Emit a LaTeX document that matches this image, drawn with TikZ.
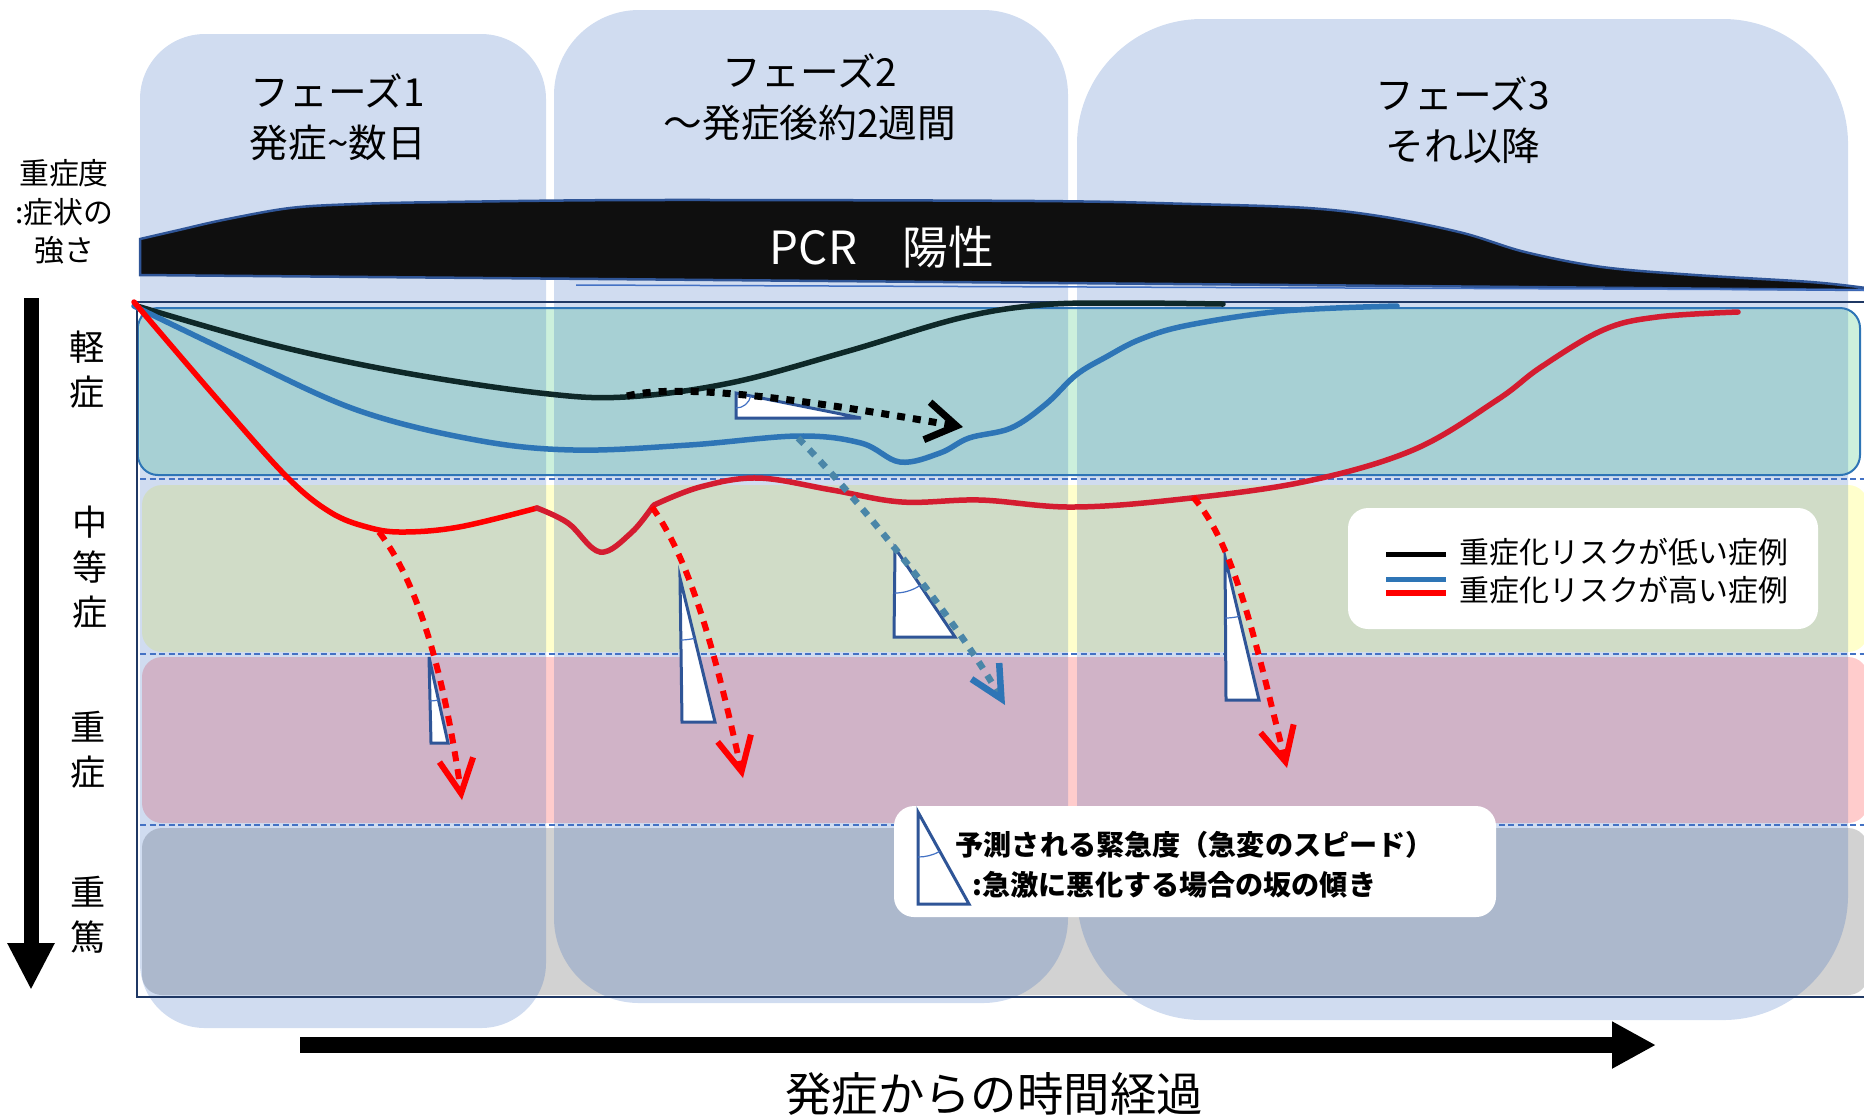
\documentclass[tikz,border=0pt]{standalone}
\usepackage{fontspec}
\setmainfont{Noto Sans CJK JP}
\usetikzlibrary{arrows.meta,calc}
\definecolor{phaseblue}{RGB}{20,80,180}
\definecolor{mildgreen}{RGB}{204,240,220}
\definecolor{midyellow}{RGB}{255,255,204}
\definecolor{sevpink}{RGB}{255,204,204}
\definecolor{critgray}{RGB}{210,210,210}
\definecolor{riskblue}{RGB}{46,117,182}
\definecolor{riskred}{RGB}{212,28,48}
\definecolor{lowblack}{RGB}{14,40,40}
\definecolor{framenavy}{RGB}{31,56,100}
\definecolor{triblue}{RGB}{47,85,151}
\definecolor{dashblue}{RGB}{68,114,196}
\definecolor{tealdot}{RGB}{74,134,168}

\begin{document}
\begin{tikzpicture}[x=0.1mm,y=-0.1mm,
  phasecol/.style={fill=phaseblue,fill opacity=0.2},
  curve/.style={line width=0.55mm,line cap=round},
  reddots/.style={red,line width=0.6mm,dash pattern=on 1mm off 0.8mm,-{Straight Barb[length=3.4mm,width=3.4mm]}},
  urgtri/.style={fill=white,draw=triblue,line width=0.3mm},
  urgarc/.style={draw=dashblue,line width=0.12mm},
  sevtext/.style={font=\fontsize{10}{12.8}\selectfont,align=center,inner sep=0pt},
  phasetext/.style={font=\fontsize{11}{14.5}\selectfont,align=center,inner sep=0pt},
  legtext/.style={font=\fontsize{8.5}{10}\selectfont,inner sep=0pt},
  urgtext/.style={font=\fontsize{8}{10}\selectfont\bfseries,inner sep=0pt}]

\useasboundingbox (0,0) rectangle (1864,1115);

% severity bands
\fill[mildgreen,rounded corners=2mm] (138,308) rectangle (1860,475);
\fill[midyellow,rounded corners=2mm] (142,485) rectangle (1868,652);
\fill[sevpink,rounded corners=2mm] (142,657) rectangle (1868,823);
\fill[critgray,rounded corners=2mm] (142,828) rectangle (1868,995);

% phases
\fill[phasecol,rounded corners=6.5mm] (140,34) rectangle (546,1028);
\fill[phasecol,rounded corners=8.5mm] (554,10) rectangle (1068,1003);
\fill[phasecol,rounded corners=12.5mm] (1077,19) rectangle (1848,1020);

\draw[riskblue,line width=0.2mm,rounded corners=2mm] (138,308) rectangle (1860,475);
\draw[dashblue,line width=0.15mm,dash pattern=on 0.6mm off 0.35mm] (140,479) -- (1864,479);
\draw[dashblue,line width=0.15mm,dash pattern=on 0.6mm off 0.35mm] (140,654) -- (1864,654);
\draw[dashblue,line width=0.15mm,dash pattern=on 0.6mm off 0.35mm] (140,825) -- (1864,825);
\draw[framenavy,line width=0.25mm] (1870,302) -- (137,302) -- (137,997) -- (1870,997);

% PCR
\filldraw[fill=black!94,draw=triblue,line width=0.25mm] plot[smooth,tension=0.55] coordinates {(140,239) (179,230) (223,220) (290,208) (357,204) (446,202) (650,200) (1037,201) (1192,204) (1308,208) (1385,217) (1463,233) (1525,252) (1602,267) (1695,275) (1811,282) (1866,288)} -- (1866,290) -- (140,275) -- cycle;
\draw[dashblue,line width=0.15mm] (576,285) -- (1866,290);
\node[text=white,font=\fontsize{13}{15}\selectfont,inner sep=0pt] (pcr) at (882,247) {PCR　陽性};

\node[phasetext] (ph1) at (338,117) {フェーズ1\\発症{\char"7E}数日};
\node[phasetext] (ph2) at (810,97) {フェーズ2\\～発症後約2週間};
\node[phasetext] (ph3) at (1463,120) {フェーズ3\\それ以降};

% urgency triangles
\coordinate (t1a) at (736,393); \coordinate (t1b) at (736,418); \coordinate (t1c) at (861,418);
\coordinate (t2a) at (429,657); \coordinate (t2b) at (431,743); \coordinate (t2c) at (448,743);
\coordinate (t3a) at (680,578); \coordinate (t3b) at (682,722); \coordinate (t3c) at (715,722);
\coordinate (t4a) at (895,548); \coordinate (t4b) at (894,637); \coordinate (t4c) at (955,637);
\coordinate (t5a) at (1225,557); \coordinate (t5b) at (1226,700); \coordinate (t5c) at (1259,700);
\filldraw[urgtri] (t1a) -- (t1b) -- (t1c) -- cycle;
\filldraw[urgtri] (t2a) -- (t2b) -- (t2c) -- cycle;
\filldraw[urgtri] (t3a) -- (t3b) -- (t3c) -- cycle;
\filldraw[urgtri] (t4a) -- (t4b) -- (t4c) -- cycle;
\filldraw[urgtri] (t5a) -- (t5b) -- (t5c) -- cycle;
\draw[urgarc] (t1a) ++(11.3:15) arc[start angle=11.3,end angle=90,radius=15];
\draw[urgarc] (t2a) ++(77.5:44) arc[start angle=77.5,end angle=88.7,radius=44];
\draw[urgarc] (t3a) ++(76.3:62) arc[start angle=76.3,end angle=89.2,radius=62];
\draw[urgarc] (t4a) ++(56:45) arc[start angle=56,end angle=90.6,radius=45];
\draw[urgarc] (t5a) ++(76.6:61) arc[start angle=76.6,end angle=89.6,radius=61];

% courses
\draw[curve,lowblack] plot[smooth,tension=0.6] coordinates {(137,306) (270,344) (400,372) (540,393) (625,397) (730,383) (845,352) (960,318) (1040,305) (1120,303) (1223,304)};
\draw[curve,riskblue] plot[smooth,tension=0.6] coordinates {(134,306) (238,356) (357,410) (476,440) (574,450) (689,445) (798,436) (861,443) (900,462) (940,453) (969,438) (1011,428) (1046,404) (1076,375) (1106,357) (1141,339) (1189,325) (1284,311) (1397,306)};
\draw[curve,red] plot[smooth,tension=0.6] coordinates {(134,302) (218,400) (287,477) (330,512) (367,527) (402,532) (459,527) (537,508)};
\draw[curve,riskred] plot[smooth,tension=0.6] coordinates {(537,508) (568,523) (600,552) (631,533) (653,506)};
\draw[curve,riskred] plot[smooth,tension=0.6] coordinates {(654,505) (700,487) (758,478) (832,490) (902,502) (980,500) (1070,507) (1173,500) (1303,482) (1413,450) (1497,400) (1541,367) (1603,330) (1657,317) (1738,312)};

% sudden worsening
\coordinate (bks) at (627,396); \coordinate (bke) at (963,427);
\coordinate (bls) at (798,438); \coordinate (ble) at (1005,705);
\coordinate (r1s) at (379,532); \coordinate (r1e) at (462,800);
\coordinate (r2s) at (652,507); \coordinate (r2e) at (743,778);
\coordinate (r3s) at (1193,497); \coordinate (r3e) at (1287,768);
\draw[black,line width=0.7mm,dash pattern=on 0.8mm off 0.8mm,-{Straight Barb[length=3mm,width=3.8mm]}] (bks) .. controls (690,380) and (850,408) .. (bke);
\draw[tealdot,line width=0.65mm,dash pattern=on 0.8mm off 0.8mm,-{Straight Barb[length=3.2mm,width=3.2mm,color=riskblue]}] (bls) .. controls (850,490) and (950,610) .. (ble);
\draw[reddots] (r1s) .. controls (420,585) and (445,680) .. (r1e);
\draw[reddots] (r2s) .. controls (690,560) and (715,650) .. (r2e);
\draw[reddots] (r3s) .. controls (1235,545) and (1255,640) .. (r3e);

% legend
\node[fill=white,rounded corners=2mm,minimum width=47mm,minimum height=12.1mm,inner sep=0pt] (legend) at (1583,568.5) {};
\draw[black,line width=0.5mm] (1386,554) -- (1446,554);
\draw[riskblue,line width=0.5mm] (1386,579) -- (1446,579);
\draw[red,line width=0.55mm] (1386,593) -- (1446,593);
\node[legtext,anchor=west] (lowrisk) at (1459,552) {重症化リスクが低い症例};
\node[legtext,anchor=west] (highrisk) at (1459,590) {重症化リスクが高い症例};

\node[fill=white,rounded corners=2mm,minimum width=60.2mm,minimum height=11.1mm,inner sep=0pt] (urgbox) at (1195,861.5) {};
\coordinate (tla) at (918,812); \coordinate (tlb) at (918,904); \coordinate (tlc) at (969,904);
\filldraw[urgtri] (tla) -- (tlb) -- (tlc) -- cycle;
\draw[urgarc] (tla) ++(61:45) arc[start angle=61,end angle=90,radius=45];
\node[urgtext,anchor=west] (urg1) at (955,845) {予測される緊急度（急変のスピード）};
\node[urgtext,anchor=west] (urg2) at (972,885) {:急激に悪化する場合の坂の傾き};

% axes
\coordinate (sevtop) at (31,298); \coordinate (sevbot) at (31,990);
\draw[line width=1.5mm,-{Triangle[length=4.7mm,width=4.4mm]}] (sevtop) -- (sevbot);
\coordinate (timestart) at (300,1045); \coordinate (timeend) at (1656,1045);
\draw[line width=1.55mm,-{Triangle[length=4.4mm,width=4.4mm]}] (timestart) -- (timeend);

\node[font=\fontsize{8.5}{11}\selectfont,align=center,inner sep=0pt] (sevaxis) at (64,212) {重症度\\:症状の\\強さ};
\node[sevtext] (mild) at (87,370) {軽\\症};
\node[sevtext] (moderate) at (90,567) {中\\等\\症};
\node[sevtext] (severe) at (88,750) {重\\症};
\node[sevtext] (critical) at (88,915) {重\\篤};
\node[font=\fontsize{13.2}{15}\selectfont,inner sep=0pt] (timeaxis) at (994,1094) {発症からの時間経過};
\end{tikzpicture}
\end{document}
